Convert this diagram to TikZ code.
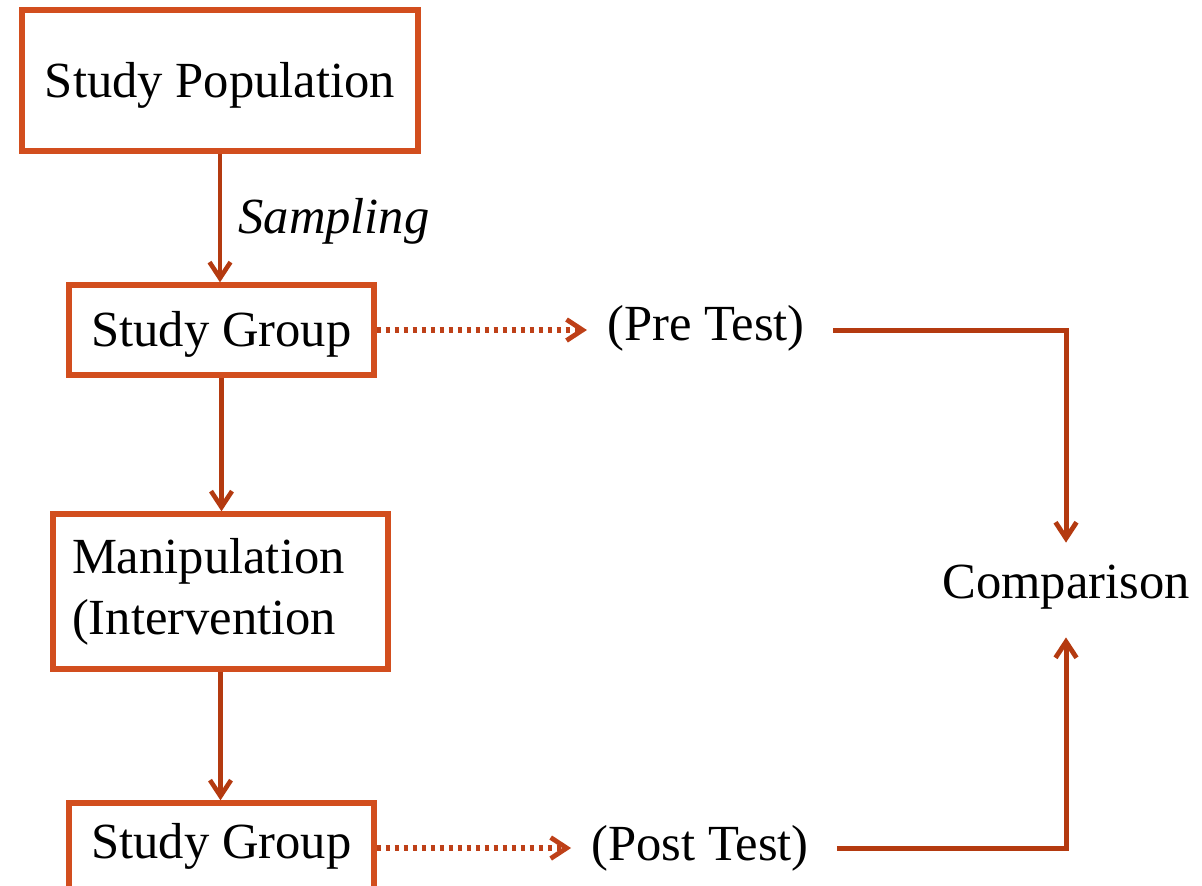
\documentclass[tikz,border=0pt]{standalone}
\usepackage{fontspec}
\setmainfont{Liberation Serif}
\usetikzlibrary{arrows.meta}

\definecolor{boxc}{RGB}{210,78,30}
\definecolor{arrc}{RGB}{180,58,16}
\definecolor{dotc}{RGB}{190,64,24}

\tikzset{
  stagebox/.style={draw=boxc, line width=2.7pt, inner sep=0pt, fill=white,
    text height=16.5pt, text depth=0pt},
  plain/.style={inner sep=0pt},
  testlabel/.style={inner ysep=0pt, inner xsep=10pt, text height=16.5pt, text depth=0pt},
  flow/.style={draw=arrc, line width=2.3pt,
    -{Straight Barb[length=8pt, width=10.5pt, line width=2.3pt]}},
  probe/.style={draw=dotc, line width=2.6pt, dash pattern=on 2.2pt off 2.3pt,
    -{Straight Barb[length=8pt, width=10.5pt, line width=2.4pt]}},
  joinline/.style={draw=arrc, line width=2.5pt,
    -{Straight Barb[length=8pt, width=10.5pt, line width=2.4pt]}}
}

\begin{document}
\begin{tikzpicture}[x=0.5pt, y=-0.5pt, font=\fontsize{25.3pt}{30.5pt}\selectfont]
  \useasboundingbox (0,0) rectangle (1202,885);

  % left column of stages
  \node[stagebox, minimum width=198pt, minimum height=70.5pt] (pop) at (220,80.5) {Study Population};
  \node[stagebox, minimum width=152.5pt, minimum height=45pt] (grp1) at (221.5,330) {Study Group};
  \node[stagebox, minimum width=167.5pt, minimum height=77.5pt, text width=148.5pt, align=left,
        text height=, text depth=]
       (manip) at (220.5,591.5) {Manipulation\\(Intervention};
  \node[stagebox, minimum width=152.5pt, minimum height=45pt, text height=10pt] (grp2) at (221.5,848) {Study Group};

  \node[plain, anchor=base west] (samp) at (238,233) {\textit{Sampling}};

  % measurements and comparison
  \node[testlabel] (pre) at (706,323.5) {(Pre Test)};
  \node[testlabel] (post) at (700,843.5) {(Post Test)};
  \node[testlabel, inner xsep=0pt, inner ysep=11pt] (cmp) at (1066,581.5) {Comparison};

  % main flow
  \draw[flow] (pop.south) -- (pop.south |- grp1.north);
  \draw[flow] (grp1.south) -- (grp1.south |- manip.north);
  \draw[flow] (manip.south) -- (manip.south |- grp2.north);

  % tests
  \draw[probe] (grp1.east) -- (grp1.east -| pre.west);
  \draw[probe] (grp2.east) -- (grp2.east -| post.west);

  % into the comparison
  \draw[joinline, shorten <=4pt] (pre.east |- grp1.east) -| (cmp.north);
  \draw[joinline, shorten <=4pt, shorten >=8.5pt] (post.east |- grp2.east) -| (cmp.south);
\end{tikzpicture}
\end{document}
